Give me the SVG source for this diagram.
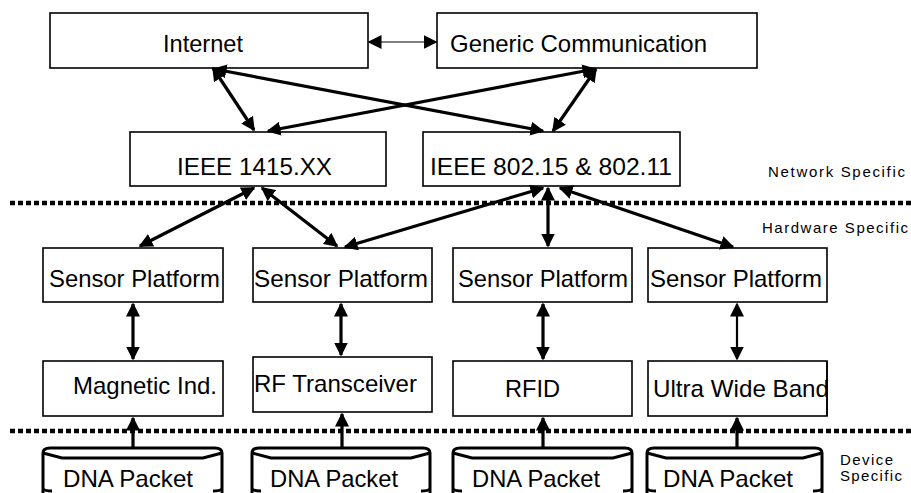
<svg xmlns="http://www.w3.org/2000/svg" width="911" height="493" viewBox="0 0 911 493">
<style>
.box{fill:#fff;stroke:#000;stroke-width:1.6}
.t{font-family:"Liberation Sans",Arial,sans-serif;font-size:24px;fill:#000}
.s{font-family:"Liberation Sans",Arial,sans-serif;font-size:15px;fill:#000}
.c{fill:none;stroke:#000;stroke-width:3.2}
.thin{fill:none;stroke:#000;stroke-width:1}
.dash{fill:none;stroke:#000;stroke-width:4.5;stroke-dasharray:5 3}
.dna{fill:#fff;stroke:#000;stroke-width:3}
.dnai{fill:none;stroke:#000;stroke-width:3}
</style>
<defs>
<marker id="ah" markerUnits="userSpaceOnUse" viewBox="0 0 14 14" markerWidth="14" markerHeight="14" refX="12.5" refY="7" orient="auto-start-reverse">
<path d="M0,0 L14,7 L0,14 z" fill="#000"/>
</marker>
</defs>
<rect width="911" height="493" fill="#fff"/>

<g id="separators">
<line class="dash" x1="10" y1="203" x2="911" y2="203"/>
<line class="dash" x1="10" y1="431" x2="911" y2="431"/>
</g>

<g id="internet"><rect class="box" x="50" y="13" width="318" height="55"/><text class="t" x="163" y="52" textLength="80" lengthAdjust="spacingAndGlyphs">Internet</text></g>
<g id="generic"><rect class="box" x="437" y="13" width="320" height="55"/><text class="t" x="450" y="52" textLength="257" lengthAdjust="spacingAndGlyphs">Generic Communication</text></g>
<g id="ieee1415"><rect class="box" x="130" y="132" width="256" height="54"/><text class="t" x="177" y="175" textLength="155" lengthAdjust="spacingAndGlyphs">IEEE 1415.XX</text></g>
<g id="ieee802"><rect class="box" x="423" y="132" width="257" height="54"/><text class="t" x="430" y="175" textLength="242" lengthAdjust="spacingAndGlyphs">IEEE 802.15 &amp; 802.11</text></g>

<g id="sensor1"><rect class="box" x="43" y="248" width="180" height="54"/><text class="t" x="49" y="287" textLength="171" lengthAdjust="spacingAndGlyphs">Sensor Platform</text></g>
<g id="sensor2"><rect class="box" x="253" y="248" width="179" height="54"/><text class="t" x="254" y="287" textLength="174" lengthAdjust="spacingAndGlyphs">Sensor Platform</text></g>
<g id="sensor3"><rect class="box" x="453" y="248" width="179" height="54"/><text class="t" x="458" y="287" textLength="170" lengthAdjust="spacingAndGlyphs">Sensor Platform</text></g>
<g id="sensor4"><rect class="box" x="648" y="248" width="179" height="54"/><text class="t" x="650" y="287" textLength="172" lengthAdjust="spacingAndGlyphs">Sensor Platform</text></g>

<g id="magnetic"><rect class="box" x="43" y="361" width="180" height="55"/><text class="t" x="73" y="394" textLength="144" lengthAdjust="spacingAndGlyphs">Magnetic Ind.</text></g>
<g id="rf"><rect class="box" x="253" y="357" width="179" height="55"/><text class="t" x="254" y="392" textLength="163" lengthAdjust="spacingAndGlyphs">RF Transceiver</text></g>
<g id="rfid"><rect class="box" x="453" y="361" width="179" height="55"/><text class="t" x="505" y="397" textLength="55" lengthAdjust="spacingAndGlyphs">RFID</text></g>
<g id="uwb"><rect class="box" x="648" y="361" width="179" height="55"/><text class="t" x="653" y="397" textLength="176" lengthAdjust="spacingAndGlyphs">Ultra Wide Band</text><line x1="827" y1="361" x2="827" y2="416" stroke="#000" stroke-width="1.6"/></g>

<g id="dna1"><path class="dna" d="M43,495 V453 Q43,448 50,448 H215 Q222,448 222,453 V495"/><path class="dnai" d="M43,453 L62,458 H203 L222,453"/><path class="dnai" d="M43,489 Q45,491 52,491 M222,489 Q220,491 213,491"/><text class="t" x="63" y="487" textLength="130" lengthAdjust="spacingAndGlyphs">DNA Packet</text></g>
<g id="dna2"><path class="dna" d="M252,495 V453 Q252,448 259,448 H423 Q430,448 430,453 V495"/><path class="dnai" d="M252,453 L271,458 H411 L430,453"/><path class="dnai" d="M252,489 Q254,491 261,491 M430,489 Q428,491 421,491"/><text class="t" x="270" y="487" textLength="128" lengthAdjust="spacingAndGlyphs">DNA Packet</text></g>
<g id="dna3"><path class="dna" d="M453,495 V453 Q453,448 460,448 H625 Q632,448 632,453 V495"/><path class="dnai" d="M453,453 L472,458 H613 L632,453"/><path class="dnai" d="M453,489 Q455,491 462,491 M632,489 Q630,491 623,491"/><text class="t" x="472" y="487" textLength="128" lengthAdjust="spacingAndGlyphs">DNA Packet</text></g>
<g id="dna4"><path class="dna" d="M647,495 V453 Q647,448 654,448 H815 Q822,448 822,453 V495"/><path class="dnai" d="M647,453 L666,458 H803 L822,453"/><path class="dnai" d="M647,489 Q649,491 656,491 M822,489 Q820,491 813,491"/><text class="t" x="663" y="487" textLength="130" lengthAdjust="spacingAndGlyphs">DNA Packet</text></g>

<g id="labels">
<text class="s" x="768" y="177" textLength="137" lengthAdjust="spacing">Network Specific</text>
<text class="s" x="762" y="233" textLength="146" lengthAdjust="spacing">Hardware Specific</text>
<text class="s" x="840" y="465" textLength="53" lengthAdjust="spacing">Device</text>
<text class="s" x="840" y="481" textLength="62" lengthAdjust="spacing">Specific</text>
</g>

<g id="connectors">
<line class="thin" x1="369" y1="42" x2="436" y2="42" marker-start="url(#ah)" marker-end="url(#ah)"/>
<line class="c" x1="213" y1="68" x2="254" y2="130" marker-start="url(#ah)" marker-end="url(#ah)"/>
<line class="c" x1="214" y1="69" x2="543" y2="131" marker-start="url(#ah)" marker-end="url(#ah)"/>
<line class="c" x1="595" y1="69" x2="268" y2="131" marker-start="url(#ah)" marker-end="url(#ah)"/>
<line class="c" x1="596" y1="69" x2="553" y2="131" marker-start="url(#ah)" marker-end="url(#ah)"/>

<line class="c" x1="254" y1="188" x2="140" y2="246" marker-start="url(#ah)" marker-end="url(#ah)"/>
<line class="c" x1="262" y1="188" x2="337" y2="246" marker-start="url(#ah)" marker-end="url(#ah)"/>
<line class="c" x1="543" y1="188" x2="345" y2="247" marker-start="url(#ah)" marker-end="url(#ah)"/>
<line class="c" x1="548" y1="188" x2="548" y2="246" marker-start="url(#ah)" marker-end="url(#ah)"/>
<line class="c" x1="560" y1="188" x2="733" y2="247" marker-start="url(#ah)" marker-end="url(#ah)"/>

<line class="c" x1="133" y1="304" x2="133" y2="359" marker-start="url(#ah)" marker-end="url(#ah)"/>
<line class="c" x1="341" y1="304" x2="341" y2="355" marker-start="url(#ah)" marker-end="url(#ah)"/>
<line class="c" x1="543" y1="304" x2="543" y2="359" marker-start="url(#ah)" marker-end="url(#ah)"/>
<line class="c" style="stroke-width:2.2" x1="737" y1="304" x2="737" y2="359" marker-start="url(#ah)" marker-end="url(#ah)"/>

<line class="c" x1="133" y1="447" x2="133" y2="418" marker-end="url(#ah)"/>
<line class="c" x1="342" y1="447" x2="342" y2="414" marker-end="url(#ah)"/>
<line class="c" x1="543" y1="447" x2="543" y2="418" marker-end="url(#ah)"/>
<line class="c" x1="737" y1="447" x2="737" y2="418" marker-end="url(#ah)"/>
</g>
</svg>
